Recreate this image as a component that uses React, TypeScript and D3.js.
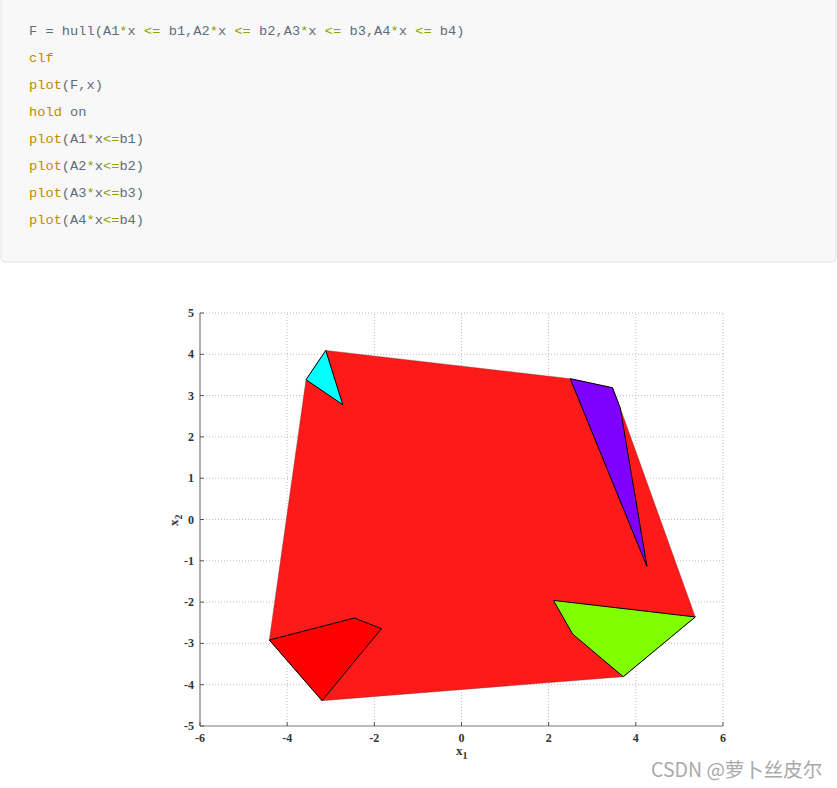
import React from "react";
import * as d3 from "d3";

// ---- data ----
const codeLines: [string, string][][] = [
  [["t", "F = hull(A1"], ["o", "*"], ["t", "x "], ["o", "<="], ["t", " b1,A2"], ["o", "*"], ["t", "x "], ["o", "<="], ["t", " b2,A3"], ["o", "*"], ["t", "x "], ["o", "<="], ["t", " b3,A4"], ["o", "*"], ["t", "x "], ["o", "<="], ["t", " b4)"]],
  [["k", "clf"]],
  [["k", "plot"], ["t", "(F,x)"]],
  [["k", "hold"], ["t", " on"]],
  [["k", "plot"], ["t", "(A1"], ["o", "*"], ["t", "x"], ["o", "<="], ["t", "b1)"]],
  [["k", "plot"], ["t", "(A2"], ["o", "*"], ["t", "x"], ["o", "<="], ["t", "b2)"]],
  [["k", "plot"], ["t", "(A3"], ["o", "*"], ["t", "x"], ["o", "<="], ["t", "b3)"]],
  [["k", "plot"], ["t", "(A4"], ["o", "*"], ["t", "x"], ["o", "<="], ["t", "b4)"]],
];

const xTicks = [-6, -4, -2, 0, 2, 4, 6];
const yTicks = [-5, -4, -3, -2, -1, 0, 1, 2, 3, 4, 5];

const hullF: [number, number][] = [
  [-3.567, 3.385], [-3.114, 4.094], [2.494, 3.41], [3.465, 3.19], [3.642, 2.7],
  [5.364, -2.36], [3.711, -3.806], [-3.199, -4.387], [-4.409, -2.918],
];
const region1: [number, number][] = [[-4.409, -2.918], [-2.457, -2.385], [-1.838, -2.644], [-3.199, -4.387]];
const region2: [number, number][] = [[-3.567, 3.385], [-3.114, 4.094], [-2.724, 2.78]];
const region3: [number, number][] = [[2.494, 3.41], [3.465, 3.19], [3.642, 2.7], [4.255, -1.135]];
const region4: [number, number][] = [[2.111, -1.959], [2.548, -2.772], [3.711, -3.806], [5.364, -2.36]];
const regions = [region1, region2, region3, region4];
const regionColors = ["#ff0000", "#00ffff", "#8000ff", "#80ff00"];

const codeColors: Record<string, string> = { t: "#5e6d78", k: "#c18a00", o: "#8fa000" };

export default function App() {
  const W = 837, H = 788;
  const x = d3.scaleLinear().domain([-6, 6]).range([200, 723]);
  const y = d3.scaleLinear().domain([-5, 5]).range([726, 313]);
  const line = d3.line<[number, number]>().x((d) => x(d[0])).y((d) => y(d[1])).curve(d3.curveLinearClosed);
  const tickFont = "'Liberation Serif', 'Times New Roman', serif";
  return (
    <div style={{ position: "absolute", left: 0, top: 0 }}>
      <svg width={W} height={H} style={{ display: "block" }}>
        <rect width={W} height={H} fill="#ffffff" />
        {/* code block */}
        <rect x={1} y={-10} width={W - 2} height={272} rx={4} fill="#f8f8f8" stroke="#e4e4e4" strokeWidth={1} />
        {codeLines.map((ln, i) => (
          <text key={i} x={29} y={35 + i * 27} fontFamily="'Liberation Mono', 'DejaVu Sans Mono', monospace" fontSize={13.7}>
            {ln.map((s, j) => (
              <tspan key={j} fill={codeColors[s[0]]}>{s[1]}</tspan>
            ))}
          </text>
        ))}
        {/* grid */}
        {xTicks.filter((t) => t !== -6).map((t) => (
          <line key={"gx" + t} x1={x(t)} x2={x(t)} y1={y(-5)} y2={y(5)} stroke="#bdbdbd" strokeWidth={1} strokeDasharray="1,2" />
        ))}
        {yTicks.filter((t) => t !== -5).map((t) => (
          <line key={"gy" + t} x1={x(-6)} x2={x(6)} y1={y(t)} y2={y(t)} stroke="#bdbdbd" strokeWidth={1} strokeDasharray="1,2" />
        ))}
        {/* hull */}
        <path d={line(hullF) || ""} fill="#ff1a1a" stroke="#5a2020" strokeWidth={0.6} strokeOpacity={0.6} />
        {regions.map((r, i) => (
          <path key={i} d={line(r) || ""} fill={regionColors[i]} stroke="#000" strokeWidth={1} strokeLinejoin="round" />
        ))}
        {/* axes */}
        <line x1={x(-6)} x2={x(6)} y1={y(-5)} y2={y(-5)} stroke="#7a7a7a" strokeWidth={1.2} />
        <line x1={x(-6)} x2={x(-6)} y1={y(-5)} y2={y(5)} stroke="#7a7a7a" strokeWidth={1.2} />
        {xTicks.map((t) => (
          <g key={"tx" + t}>
            <line x1={x(t)} x2={x(t)} y1={y(-5)} y2={y(-5) - 4} stroke="#555" strokeWidth={1} />
            <text x={x(t)} y={y(-5) + 16} textAnchor="middle" fontFamily={tickFont} fontSize={12} fontWeight="bold" fill="#333">{t}</text>
          </g>
        ))}
        {yTicks.map((t) => (
          <g key={"ty" + t}>
            <line x1={x(-6)} x2={x(-6) + 4} y1={y(t)} y2={y(t)} stroke="#555" strokeWidth={1} />
            <text x={x(-6) - 6} y={y(t) + 4} textAnchor="end" fontFamily={tickFont} fontSize={12} fontWeight="bold" fill="#333">{t}</text>
          </g>
        ))}
        {/* axis labels */}
        <text x={456} y={755} fontFamily={tickFont} fontSize={13} fontWeight="bold" fill="#333">
          x<tspan dy={4} fontSize={10}>1</tspan>
        </text>
        <text transform={`translate(178,526) rotate(-90)`} fontFamily={tickFont} fontSize={13} fontWeight="bold" fill="#333">
          x<tspan dy={4} fontSize={10}>2</tspan>
        </text>
        {/* watermark */}
        <text x={651} y={777} fontFamily="'Noto Sans CJK SC', 'Noto Sans', sans-serif" fontSize={19.5} fill="#a9a9a9">CSDN @萝卜丝皮尔</text>
      </svg>
    </div>
  );
}
